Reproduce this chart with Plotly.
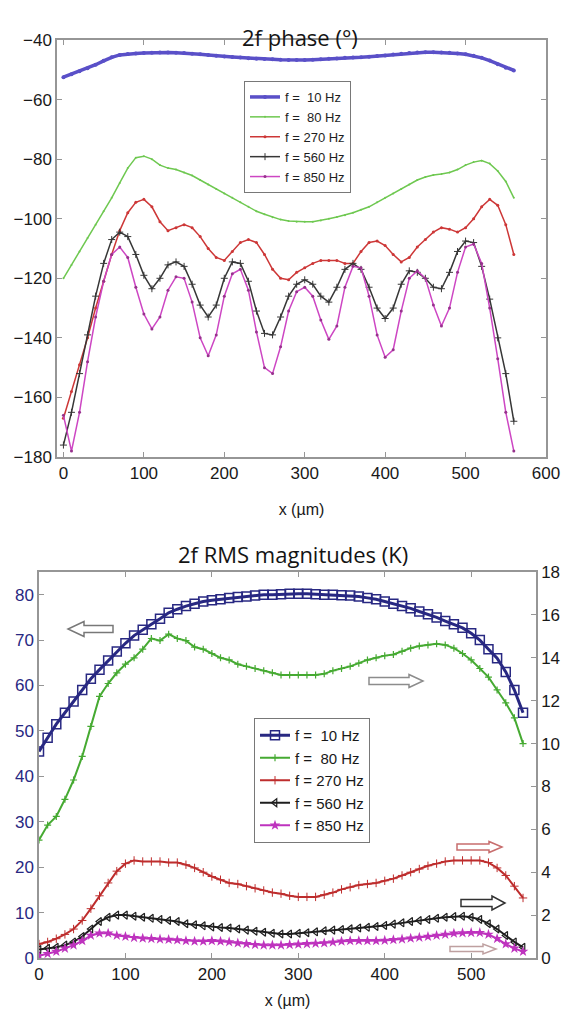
import plotly.graph_objects as go

# ---------------- data ----------------
# sample positions along the line scan (µm)
x_um = [0, 10, 20, 30, 40, 50, 60, 70, 80, 90, 100, 110, 120, 130, 140, 150, 160, 170, 180, 190,
        200, 210, 220, 230, 240, 250, 260, 270, 280, 290, 300, 310, 320, 330, 340, 350, 360, 370, 380, 390,
        400, 410, 420, 430, 440, 450, 460, 470, 480, 490, 500, 510, 520, 530, 540, 550, 560]

freq_labels = ["f =\u00a0\u00a010 Hz", "f =\u00a0\u00a080 Hz", "f = 270 Hz", "f = 560 Hz", "f = 850 Hz"]

# 2f phase (degrees)
phase_10 = [-52.5, -51.5, -50.5, -49.5, -48.3, -47, -45.8, -45, -44.7, -44.5, -44.4, -44.3, -44.2, -44.2, -44.3, -44.4, -44.6, -44.8, -45, -45.3,
            -45.5, -45.7, -45.9, -46.1, -46.3, -46.4, -46.5, -46.6, -46.7, -46.7, -46.7, -46.6, -46.5, -46.3, -46.2, -46, -45.9, -45.8, -45.6, -45.4,
            -45.2, -44.9, -44.6, -44.4, -44.2, -44.1, -44.1, -44.2, -44.3, -44.5, -44.8, -45.3, -46, -46.9, -48.1, -49.3, -50.2]
phase_80 = [-120, -115.5, -111, -106.5, -102, -97.5, -93, -88, -83, -79.5, -79, -80, -82, -83, -83.5, -84.5, -85.5, -87, -88.5, -90,
            -91.5, -93, -94.5, -96, -97.5, -98.5, -99.5, -100.3, -100.8, -101, -101, -101, -100.6, -100, -99.4, -98.8, -98, -97, -96, -94.5,
            -93, -91.5, -90, -88.5, -87, -86, -85.3, -85, -84.5, -83.5, -82, -81, -80.5, -81.5, -84, -87.5, -93]
phase_270 = [-167, -158, -149, -140, -130, -121, -112, -104, -98, -94.5, -93.5, -96, -101, -104, -103, -102, -103, -106, -110, -113,
             -114, -111, -108, -107, -108, -112, -117, -120, -120.5, -118, -116.5, -115, -114, -114, -114, -115, -115, -111, -108, -107.5,
             -109, -112, -114.5, -113, -109.5, -107, -104.5, -103, -103.5, -104.5, -103, -100, -96, -93.5, -95.5, -102, -112]
phase_560 = [-176, -165, -152, -139, -126, -115, -107, -104.5, -106, -112, -119, -123.5, -120, -115.5, -114.5, -116, -122, -129, -133, -129,
             -120, -114.5, -115, -121, -131, -138.5, -139, -133, -126, -122, -120.5, -122, -126, -128, -123, -117, -115, -117, -123, -130,
             -133.5, -130, -122, -117.5, -118, -120, -123, -123.5, -118, -111, -107.5, -108, -116, -127, -140, -152, -168]
phase_850 = [-166, -178, -165, -148, -133, -121, -112, -109.5, -113, -123, -132, -137, -133, -124, -119.5, -120, -128, -140, -146, -139,
             -126, -118.5, -117, -124, -138, -150, -152, -143, -131, -124.5, -123, -126, -134, -140.5, -136, -123, -116, -116.5, -126, -139,
             -146.5, -144, -131, -120, -117.5, -120, -129, -136, -130, -118, -109.5, -108.5, -115, -130, -147, -165, -178]

# 2f RMS magnitudes (K); 10 Hz on the left axis, the others on the right axis
mag_10 = [45.5, 48.5, 51.5, 54, 56.5, 59, 61.5, 63.5, 65.5, 67.5, 69.3, 71, 72.3, 73.5, 74.7, 76, 76.8, 77.5, 78, 78.5,
          78.8, 79, 79.3, 79.5, 79.6, 79.8, 80, 80, 80.1, 80.2, 80.2, 80.2, 80.1, 80, 80, 79.9, 79.8, 79.6, 79.3, 79,
          78.5, 78, 77.5, 77, 76.3, 75.7, 75, 74.2, 73.5, 72.7, 71.5, 70, 68, 66, 63, 59, 54]
mag_80 = [5.5, 6.2, 6.6, 7.4, 8.3, 9.4, 10.8, 12.2, 12.8, 13.3, 13.7, 14.0, 14.4, 14.9, 14.8, 15.1, 14.9, 14.8, 14.5, 14.4,
          14.2, 14.0, 13.9, 13.7, 13.6, 13.5, 13.4, 13.3, 13.2, 13.2, 13.2, 13.2, 13.2, 13.25, 13.4, 13.5, 13.6, 13.75, 13.9, 14.0,
          14.1, 14.15, 14.3, 14.45, 14.55, 14.6, 14.65, 14.6, 14.45, 14.2, 13.9, 13.5, 13.1, 12.5, 11.9, 11.2, 10.0]
mag_270 = [0.65, 0.75, 0.9, 1.1, 1.35, 1.75, 2.3, 2.9, 3.5, 4.05, 4.4, 4.55, 4.5, 4.5, 4.5, 4.45, 4.45, 4.35, 4.2, 4.0,
           3.8, 3.65, 3.5, 3.45, 3.35, 3.25, 3.15, 3.05, 3.0, 2.9, 2.85, 2.85, 2.85, 2.95, 3.05, 3.2, 3.3, 3.4, 3.45, 3.5,
           3.6, 3.7, 3.85, 4.0, 4.15, 4.3, 4.4, 4.5, 4.55, 4.55, 4.55, 4.55, 4.45, 4.2, 3.85, 3.35, 2.8]
mag_560 = [0.4, 0.45, 0.5, 0.6, 0.75, 1.0, 1.35, 1.7, 1.9, 2.0, 2.0, 1.95, 1.9, 1.85, 1.8, 1.75, 1.7, 1.6, 1.55, 1.5,
           1.45, 1.42, 1.4, 1.35, 1.3, 1.25, 1.2, 1.15, 1.12, 1.12, 1.15, 1.18, 1.22, 1.27, 1.3, 1.33, 1.36, 1.4, 1.43, 1.47,
           1.52, 1.58, 1.64, 1.7, 1.75, 1.8, 1.85, 1.9, 1.93, 1.95, 1.9, 1.8, 1.6, 1.35, 1.05, 0.75, 0.5]
mag_850 = [0.1, 0.2, 0.3, 0.45, 0.6, 0.8, 1.05, 1.15, 1.15, 1.05, 1.0, 0.95, 0.92, 0.9, 0.88, 0.86, 0.84, 0.8, 0.78, 0.78,
           0.8, 0.78, 0.75, 0.7, 0.66, 0.62, 0.6, 0.6, 0.6, 0.62, 0.64, 0.66, 0.68, 0.7, 0.74, 0.78, 0.8, 0.8, 0.8, 0.8,
           0.82, 0.85, 0.88, 0.92, 0.96, 1.0, 1.05, 1.1, 1.15, 1.17, 1.18, 1.18, 1.1, 0.9, 0.65, 0.45, 0.3]

phase_ticks = [-180, -160, -140, -120, -100, -80, -60, -40]
x_ticks_top = [0, 100, 200, 300, 400, 500, 600]
x_ticks_bottom = [0, 100, 200, 300, 400, 500]
left_ticks = [0, 10, 20, 30, 40, 50, 60, 70, 80]
right_ticks = [0, 2, 4, 6, 8, 10, 12, 14, 16, 18]

# ---------------- styling ----------------
W, H = 562, 1014
BLUE = "rgb(90,80,200)"
NAVY = "rgb(40,40,130)"
GREEN = "rgb(110,200,80)"
RED = "rgb(205,55,55)"
DARK = "rgb(55,55,55)"
MAGENTA = "rgb(205,70,195)"
FRAME = "rgb(150,150,150)"
SANS = "Liberation Sans"
TICKFONT = dict(family=SANS, size=17, color="rgb(25,25,25)")


def px_x(p):
    return p / W


def px_y(p):
    return 1 - p / H


fig = go.Figure()

# ---- upper panel: phase ----
top_series = [
    (phase_10, BLUE, 3.5, dict(symbol="circle", size=4, color=BLUE)),
    (phase_80, GREEN, 1.5, dict(symbol="circle", size=2, color=GREEN)),
    (phase_270, RED, 1.5, dict(symbol="circle", size=3, color=RED)),
    (phase_560, DARK, 1.5, dict(symbol="cross-thin", size=5, color=DARK, line=dict(width=1, color=DARK))),
    (phase_850, MAGENTA, 1.5, dict(symbol="circle", size=3, color="rgb(150,50,140)")),
]
for (vals, col, lw, mk), name in zip(top_series, freq_labels):
    fig.add_trace(go.Scatter(x=x_um, y=vals, name=name, mode="lines+markers",
                             line=dict(color=col, width=lw), marker=mk,
                             xaxis="x", yaxis="y", legend="legend"))

# ---- lower panel: RMS magnitudes ----
fig.add_trace(go.Scatter(x=x_um, y=mag_10, name=freq_labels[0], mode="lines+markers",
                         line=dict(color=NAVY, width=3),
                         marker=dict(symbol="square-open", size=9, color=NAVY, line=dict(width=1.5)),
                         xaxis="x2", yaxis="y2", legend="legend2"))
bottom_series = [
    (mag_80, "rgb(70,170,50)", dict(symbol="cross-thin", size=5, color="rgb(70,170,50)", line=dict(width=1.2, color="rgb(70,170,50)"))),
    (mag_270, "rgb(190,45,45)", dict(symbol="cross-thin", size=6, color="rgb(190,45,45)", line=dict(width=1, color="rgb(190,45,45)"))),
    (mag_560, "rgb(30,30,30)", dict(symbol="triangle-left-open", size=7, color="rgb(30,30,30)", line=dict(width=1.2))),
    (mag_850, "rgb(190,50,190)", dict(symbol="star", size=8, color="rgb(190,50,190)")),
]
for (vals, col, mk), name in zip(bottom_series, freq_labels[1:]):
    fig.add_trace(go.Scatter(x=x_um, y=vals, name=name, mode="lines+markers",
                             line=dict(color=col, width=2), marker=mk,
                             xaxis="x2", yaxis="y3", legend="legend2"))

axis_common = dict(showgrid=False, zeroline=False, showline=True, linecolor=FRAME, linewidth=1.5,
                   ticks="inside", ticklen=5, tickcolor=FRAME, tickfont=TICKFONT, automargin=False)
xtitle_font = dict(family=SANS, size=16, color="rgb(25,25,25)")

top_dom_x = [px_x(57), px_x(546)]
top_dom_y = [px_y(457), px_y(40)]
bot_dom_x = [px_x(39), px_x(536)]
bot_dom_y = [px_y(958), px_y(572)]

fig.update_layout(
    width=W, height=H,
    margin=dict(l=0, r=0, t=0, b=0),
    paper_bgcolor="white", plot_bgcolor="white",
    xaxis=dict(domain=top_dom_x, range=[-8, 600], tickvals=x_ticks_top, anchor="y", mirror="ticks",
               title=dict(text="x (µm)", font=xtitle_font, standoff=22),
               **axis_common),
    yaxis=dict(domain=top_dom_y, range=[-180, -40], tickvals=phase_ticks, anchor="x", mirror="ticks",
               **axis_common),
    xaxis2=dict(domain=bot_dom_x, range=[0, 575], tickvals=x_ticks_bottom, anchor="y2", mirror="ticks",
                title=dict(text="x (µm)", font=xtitle_font, standoff=12),
                **axis_common),
    yaxis2=dict(domain=bot_dom_y, range=[0, 85], tickvals=left_ticks, anchor="x2", mirror=True,
                **{**axis_common, "tickfont": dict(family=SANS, size=17, color=NAVY)}),
    yaxis3=dict(domain=bot_dom_y, range=[0, 18], tickvals=right_ticks, anchor="x2", overlaying="y2", side="right",
                **axis_common),
    legend=dict(x=px_x(244), y=px_y(81), xanchor="left", yanchor="top",
                bordercolor="rgb(120,120,120)", borderwidth=1, bgcolor="white",
                font=dict(family=SANS, size=13, color="rgb(30,30,30)"),
                itemwidth=30, tracegroupgap=0),
    legend2=dict(x=px_x(254), y=px_y(718), xanchor="left", yanchor="top",
                 bordercolor="rgb(120,120,120)", borderwidth=1, bgcolor="white",
                 font=dict(family=SANS, size=15, color="rgb(25,25,25)"),
                 itemwidth=30, tracegroupgap=0),
    showlegend=True,
)

# panel titles
fig.add_annotation(text="2f phase (°)", x=px_x(300), y=px_y(20), xref="paper", yref="paper",
                   showarrow=False, font=dict(family="Open Sans, sans-serif", size=22, color="rgb(20,20,20)"))
fig.add_annotation(text="2f RMS magnitudes (K)", x=px_x(293), y=px_y(554), xref="paper", yref="paper",
                   showarrow=False, font=dict(family="Open Sans, sans-serif", size=22, color="rgb(20,20,20)"))


# hollow block arrows pointing to the axis each curve is read from
def block_arrow(x_tail, x_tip, yc, hs, hh, hl):
    d = 1 if x_tip > x_tail else -1
    xb = x_tip - d * hl
    pts = [(x_tail, yc - hs), (xb, yc - hs), (xb, yc - hh), (x_tip, yc),
           (xb, yc + hh), (xb, yc + hs), (x_tail, yc + hs)]
    return "M " + " L ".join(f"{px_x(a):.5f},{px_y(b):.5f}" for a, b in pts) + " Z"


arrows = [
    (113, 68, 629, 3.5, 7.5, 16, "rgb(120,120,120)"),
    (369, 423, 681, 3.5, 6.5, 14, "rgb(140,140,140)"),
    (457, 502, 847, 3.0, 5.5, 13, "rgb(200,110,110)"),
    (461, 505, 903, 3.5, 7.0, 13, "rgb(50,50,50)"),
    (450, 496, 949, 2.5, 5.0, 13, "rgb(190,160,160)"),
]
for xt, xh, yc, hs, hh, hl, col in arrows:
    fig.add_shape(type="path", path=block_arrow(xt, xh, yc, hs, hh, hl), xref="paper", yref="paper",
                  line=dict(color=col, width=1.5), fillcolor="white")

fig.write_html("out.html")
